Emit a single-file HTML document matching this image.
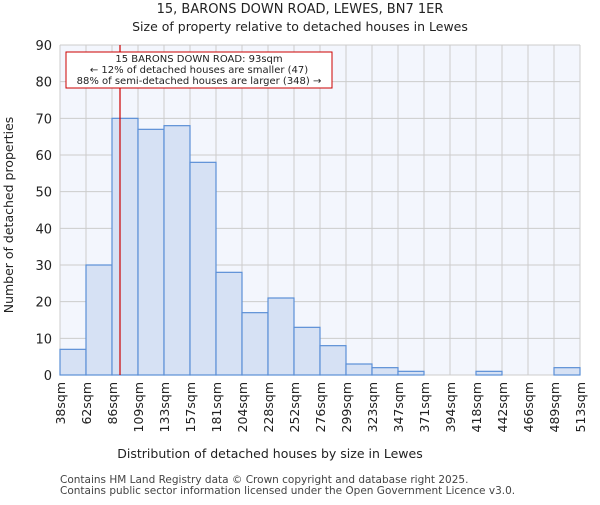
<!DOCTYPE html>
<html><head><meta charset="utf-8"><style>
body{margin:0;background:#fff;font-family:"Liberation Sans","DejaVu Sans",sans-serif;}
</style></head><body>
<svg width="600" height="500" xmlns="http://www.w3.org/2000/svg" font-family="DejaVu Sans, Liberation Sans, sans-serif">
<text x="300" y="13" text-anchor="middle" font-size="13" fill="#222">15, BARONS DOWN ROAD, LEWES, BN7 1ER</text>
<text x="300" y="31" text-anchor="middle" font-size="12.5" fill="#222">Size of property relative to detached houses in Lewes</text>
<rect x="60" y="45" width="520" height="330" fill="#f3f6fd"/>
<g id="grid"></g><g id="bars"></g><g id="axes"></g>
<line x1="120" y1="45" x2="120" y2="375" stroke="#cc0000" stroke-width="1.2"/>
<g>
<rect x="66" y="52" width="266" height="36" fill="#fff" stroke="#cc0000" stroke-width="1"/>
<text x="199" y="62" text-anchor="middle" font-size="10" fill="#222">15 BARONS DOWN ROAD: 93sqm</text>
<text x="199" y="73" text-anchor="middle" font-size="10" fill="#222">← 12% of detached houses are smaller (47)</text>
<text x="199" y="84" text-anchor="middle" font-size="10" fill="#222">88% of semi-detached houses are larger (348) →</text>
</g>
<text x="270" y="458" text-anchor="middle" font-size="12.5" fill="#222">Distribution of detached houses by size in Lewes</text>
<text transform="translate(13,215) rotate(-90)" text-anchor="middle" font-size="12.5" fill="#222">Number of detached properties</text>
<text x="60" y="483" font-size="10.5" fill="#444">Contains HM Land Registry data © Crown copyright and database right 2025.</text>
<text x="60" y="494" font-size="10.5" fill="#444">Contains public sector information licensed under the Open Government Licence v3.0.</text>
</svg>
<script>
const categories=["38sqm","62sqm","86sqm","109sqm","133sqm","157sqm","181sqm","204sqm","228sqm","252sqm","276sqm","299sqm","323sqm","347sqm","371sqm","394sqm","418sqm","442sqm","466sqm","489sqm","513sqm"];
const counts=[7,30,70,67,68,58,28,17,21,13,8,3,2,1,0,0,1,0,0,2];
const yTicks=[0,10,20,30,40,50,60,70,80,90];
const NS="http://www.w3.org/2000/svg";
const X0=60,X1=580,Y0=375,Y1=45,YMAX=90;
const nb=counts.length;
const xs=i=>X0+i*(X1-X0)/nb;
const ys=v=>Y0-v*(Y0-Y1)/YMAX;
function mk(t,a,p){const e=document.createElementNS(NS,t);for(const k in a)e.setAttribute(k,a[k]);p.appendChild(e);return e;}
const grid=document.getElementById('grid'),bars=document.getElementById('bars'),axes=document.getElementById('axes');
for(let i=0;i<=nb;i++){const l=mk('line',{x1:xs(i),x2:xs(i),y1:Y1,y2:Y0,stroke:'#cccccc','stroke-width':1},grid);

}
yTicks.forEach(v=>{const l=mk('line',{x1:X0,x2:X1,y1:ys(v),y2:ys(v),stroke:'#cccccc','stroke-width':1},grid);


const t=mk('text',{x:X0-8,y:ys(v)+5,'text-anchor':'end','font-size':13,fill:'#222'},axes);t.textContent=v;

});
counts.forEach((c,i)=>{if(c<=0)return;const r=mk('rect',{x:xs(i),y:ys(c),width:xs(i+1)-xs(i),height:Y0-ys(c),fill:'#d6e1f4',stroke:'#5b8fd6','stroke-width':1.2},bars);

});
categories.forEach((c,i)=>{const x=xs(i);const t=mk('text',{transform:`translate(${x+5},382) rotate(-90)`,'text-anchor':'end','font-size':12.5,fill:'#222'},axes);t.textContent=c;

});
</script>
</body></html>
